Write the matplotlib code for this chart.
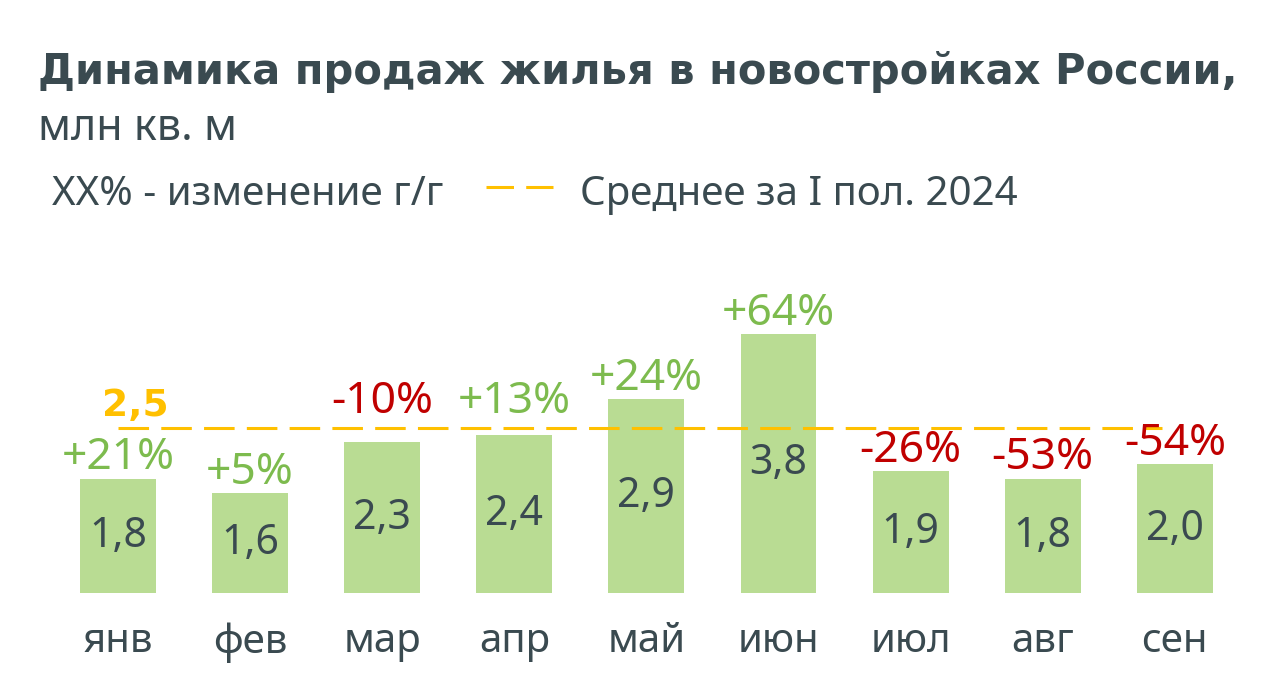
import matplotlib
matplotlib.use("Agg")
import matplotlib.pyplot as plt
from matplotlib.lines import Line2D
import numpy as np

plt.rcParams['font.family'] = ['Noto Sans', 'DejaVu Sans']

# data
months = ['янв', 'фев', 'мар', 'апр', 'май', 'июн', 'июл', 'авг', 'сен']
sales = [1.8, 1.6, 2.3, 2.4, 2.9, 3.8, 1.9, 1.8, 2.0]   # млн кв. м
yoy = [21, 5, -10, 13, 24, 64, -26, -53, -54]          # % г/г
avg_h1 = 2.5

TEXT = '#3A4A50'
BAR = '#B9DC93'
GREEN = '#7DBB4E'
RED = '#C00000'
GOLD = '#FFC000'

fig = plt.figure(figsize=(12.8, 7), dpi=100)
ax = fig.add_axes([0, 0.1529, 1, 0.4471])
y_lo, y_hi = 0.217, 4.546
ax.set_ylim(y_lo, y_hi)
ax.set_xlim(-0.893, 8.796)

x = np.arange(len(months))
ax.bar(x, sales, width=0.575, color=BAR, zorder=1)

# average line
ax.hlines(avg_h1, 0, len(months) - 1.1, colors=GOLD, lw=2.2,
          linestyles=(0, (10, 4)), zorder=3)
ax.annotate('2,5', (0.13, avg_h1), xytext=(0, 8.5), textcoords='offset points',
            ha='center', va='baseline', fontsize=27, fontweight='bold',
            family='DejaVu Sans', color=GOLD)

# values inside bars and y/y change above
label_h = 0.45
for i, (v, p) in enumerate(zip(sales, yoy)):
    ax.text(i, (v + y_lo) / 2, f'{v:.1f}'.replace('.', ','), ha='center',
            va='center', fontsize=29.5, color=TEXT, zorder=4)
    txt = f'+{p}%' if p > 0 else f'-{abs(p)}%'
    col = GREEN if p > 0 else RED
    if v < avg_h1 and v + label_h > avg_h1 - 0.02:
        base, off = avg_h1, 11
    else:
        base, off = v, 6.5
    ax.annotate(txt, (i, base), xytext=(0, off), textcoords='offset points',
                ha='center', va='baseline', fontsize=32, color=col)

ax.set_xticks(x, months)
ax.tick_params(axis='x', length=0, pad=21, labelsize=29, labelcolor=TEXT)
ax.set_yticks([])
for s in ax.spines.values():
    s.set_visible(False)

# titles and legend
fig.text(0.03, 0.88, 'Динамика продаж жилья в новостройках России,',
         fontsize=30, fontweight='bold', family='DejaVu Sans', color=TEXT,
         va='baseline')
fig.text(0.03, 0.80, 'млн кв. м', fontsize=31, color=TEXT, va='baseline')
fig.text(0.041, 0.707, 'XX% - изменение г/г', fontsize=29, color=TEXT, va='baseline')
fig.add_artist(Line2D([0.380, 0.432], [0.733, 0.733], transform=fig.transFigure,
                      color=GOLD, lw=2.2, linestyle=(0, (9, 4))))
fig.text(0.453, 0.707, 'Среднее за I пол. 2024', fontsize=29, color=TEXT, va='baseline')

fig.savefig('out.png', dpi=100)
